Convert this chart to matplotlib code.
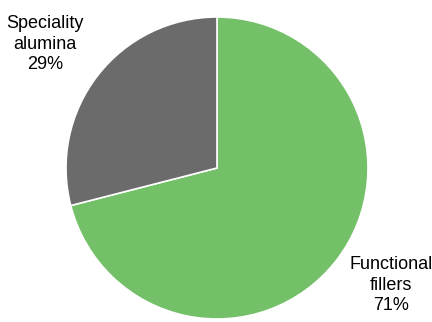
import matplotlib
matplotlib.use("Agg")
import matplotlib.pyplot as plt

labels = ["Functional\nfillers", "Speciality\nalumina"]
values = [71, 29]
colors = ["#74C069", "#6B6B6B"]

W, H = 432, 322
fig = plt.figure(figsize=(W/100, H/100), dpi=100)
cx, cy, r = 217, 168, 151
ax = fig.add_axes([(cx - r)/W, (H - cy - r)/H, 2*r/W, 2*r/H])
ax.pie(values, colors=colors, startangle=90, counterclock=False,
       wedgeprops=dict(edgecolor="white", linewidth=1.2), radius=1)
ax.set_xlim(-1, 1)
ax.set_ylim(-1, 1)
ax.set_aspect("auto")
ax.axis("off")

pos = [(1.155, -0.775), (-1.139, 0.821)]
for lab, v, (x, y) in zip(labels, values, pos):
    ax.text(x, y, f"{lab}\n{v}%", ha="center", va="center", fontsize=13,
            family="Liberation Sans", linespacing=1.3, clip_on=False)

fig.savefig("out.png", dpi=100)
